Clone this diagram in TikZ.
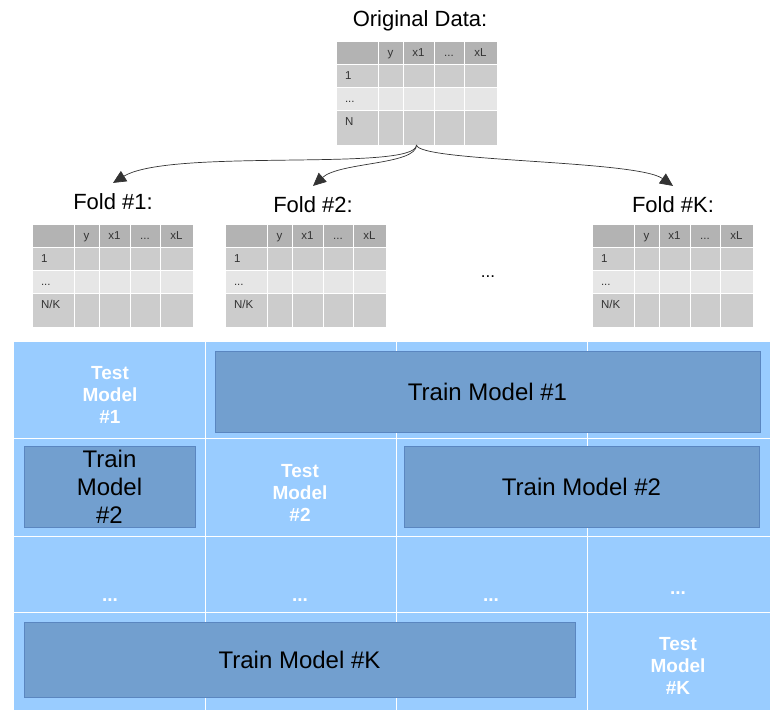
\documentclass[tikz,border=0pt]{standalone}
\usepackage{fontspec}
\setmainfont{Liberation Sans}
\usetikzlibrary{arrows.meta}
\definecolor{headgray}{HTML}{B3B3B3}
\definecolor{rowgray}{HTML}{CCCCCC}
\definecolor{rowlight}{HTML}{E6E6E6}
\definecolor{celltext}{HTML}{333333}
\definecolor{arrowgray}{HTML}{333333}
\definecolor{cvblue}{HTML}{99CCFF}
\definecolor{trainblue}{HTML}{729FCF}
\definecolor{trainedge}{HTML}{5A86C0}
\begin{document}
\begin{tikzpicture}[x=1pt, y=-1pt, line join=miter,
	every node/.style={inner sep=0pt, outer sep=0pt},
	hrow/.style={fill=headgray, draw=white, line width=0.8pt, minimum width=161pt, minimum height=23pt, anchor=north west},
	drow/.style={hrow, fill=rowgray},
	lrow/.style={hrow, fill=rowlight},
	sep/.style={white, line width=0.8pt},
	cell/.style={font=\fontsize{11.5}{13}\selectfont, text=celltext, anchor=base},
	rowlab/.style={cell, anchor=base west},
	title/.style={font=\fontsize{22}{26}\selectfont, outer sep=11pt},
	split/.style={draw=arrowgray, line width=0.7pt, -{Triangle[length=13pt, width=12pt]}},
	trainbox/.style={fill=trainblue, draw=trainedge, line width=0.6pt, anchor=north west, font=\fontsize{24}{28}\selectfont, align=center},
	testlab/.style={text=white, font=\bfseries\fontsize{19}{22}\selectfont, align=center},
	gridline/.style={white, line width=0.6pt}]
	
	\useasboundingbox (0,0) rectangle (778,727);
	
	% Original data
	\node[title] (origlab) at (420,21) {Original Data:};
	\begin{scope}[shift={(336,41)}]
		\node[hrow] (o-h) at (0,0) {};
		\node[drow] (o-1) at (0,23) {};
		\node[lrow] (o-2) at (0,46) {};
		\node[drow, minimum height=35pt] (o-3) at (0,69) {};
		\draw[sep] (42,0) -- (42,104) (67,0) -- (67,104) (98,0) -- (98,104) (128,0) -- (128,104);
		\node[cell] (o-y) at (54.5,15.5) {y};
		\node[cell] (o-x1) at (82.5,15.5) {x1};
		\node[cell] (o-dots) at (113,15.5) {...};
		\node[cell] (o-xl) at (144.5,15.5) {xL};
		\node[rowlab] (o-l1) at (9,38.5) {1};
		\node[rowlab] (o-l2) at (9,61.5) {...};
		\node[rowlab] (o-l3) at (9,84.5) {N};
	\end{scope}
	
	% Fold #1
	\node[title] (f1lab) at (113,202) {Fold \#1:};
	\begin{scope}[shift={(32,224)}]
		\node[hrow] (a-h) at (0,0) {};
		\node[drow] (a-1) at (0,23) {};
		\node[lrow] (a-2) at (0,46) {};
		\node[drow, minimum height=34pt] (a-3) at (0,69) {};
		\draw[sep] (42,0) -- (42,103) (67,0) -- (67,103) (98,0) -- (98,103) (128,0) -- (128,103);
		\node[cell] (a-y) at (54.5,15.5) {y};
		\node[cell] (a-x1) at (82.5,15.5) {x1};
		\node[cell] (a-dots) at (113,15.5) {...};
		\node[cell] (a-xl) at (144.5,15.5) {xL};
		\node[rowlab] (a-l1) at (9,38) {1};
		\node[rowlab] (a-l2) at (9,61) {...};
		\node[rowlab] (a-l3) at (9,84) {N/K};
	\end{scope}
	
	% Fold #2
	\node[title] (f2lab) at (313,205) {Fold \#2:};
	\begin{scope}[shift={(225,224)}]
		\node[hrow] (b-h) at (0,0) {};
		\node[drow] (b-1) at (0,23) {};
		\node[lrow] (b-2) at (0,46) {};
		\node[drow, minimum height=34pt] (b-3) at (0,69) {};
		\draw[sep] (42,0) -- (42,103) (67,0) -- (67,103) (98,0) -- (98,103) (128,0) -- (128,103);
		\node[cell] (b-y) at (54.5,15.5) {y};
		\node[cell] (b-x1) at (82.5,15.5) {x1};
		\node[cell] (b-dots) at (113,15.5) {...};
		\node[cell] (b-xl) at (144.5,15.5) {xL};
		\node[rowlab] (b-l1) at (9,38) {1};
		\node[rowlab] (b-l2) at (9,61) {...};
		\node[rowlab] (b-l3) at (9,84) {N/K};
	\end{scope}
	
	\node[font=\fontsize{17}{20}\selectfont] (foldgap) at (488,277) {...};
	
	% Fold #K
	\node[title] (fklab) at (673,205) {Fold \#K:};
	\begin{scope}[shift={(592,224)}]
		\node[hrow] (k-h) at (0,0) {};
		\node[drow] (k-1) at (0,23) {};
		\node[lrow] (k-2) at (0,46) {};
		\node[drow, minimum height=34pt] (k-3) at (0,69) {};
		\draw[sep] (42,0) -- (42,103) (67,0) -- (67,103) (98,0) -- (98,103) (128,0) -- (128,103);
		\node[cell] (k-y) at (54.5,15.5) {y};
		\node[cell] (k-x1) at (82.5,15.5) {x1};
		\node[cell] (k-dots) at (113,15.5) {...};
		\node[cell] (k-xl) at (144.5,15.5) {xL};
		\node[rowlab] (k-l1) at (9,38) {1};
		\node[rowlab] (k-l2) at (9,61) {...};
		\node[rowlab] (k-l3) at (9,84) {N/K};
	\end{scope}
	
	% Split arrows
	\draw[split] (o-3.south) .. controls +(0,27) and +(57,-35) .. (f1lab.north);
	\draw[split] (o-3.south) .. controls +(0,20) and +(27,-24) .. (f2lab.north);
	\draw[split] (o-3.south) .. controls +(2,17) and +(-37,-26) .. (fklab.north);
	
	% Cross validation grid
	\node[fill=cvblue, minimum width=756pt, minimum height=368pt, anchor=north west] (cv) at (14,342) {};
	\draw[gridline] (205,342) -- (205,710) (396,342) -- (396,710) (587,342) -- (587,710);
	\draw[gridline] (14,438) -- (770,438) (14,536) -- (770,536) (14,612) -- (770,612);
	
	% Row 1
	\node[testlab] (test1) at (110,395) {Test\\Model\\\#1};
	\node[trainbox, minimum width=545pt, minimum height=81pt] (train1) at (215,351) {Train Model \#1};
	
	% Row 2
	\node[trainbox, minimum width=171pt, minimum height=81pt] (train2a) at (24,446) {Train\\Model\\\#2};
	\node[testlab] (test2) at (300,493) {Test\\Model\\\#2};
	\node[trainbox, minimum width=355pt, minimum height=81pt] (train2b) at (404,446) {Train Model \#2};
	
	% Row 3
	\node[testlab] (dots1) at (110,600) {...};
	\node[testlab] (dots2) at (300,600) {...};
	\node[testlab] (dots3) at (491,600) {...};
	\node[testlab] (dots4) at (678,593) {...};
	
	% Row K
	\node[trainbox, minimum width=551pt, minimum height=75pt] (traink) at (24,622) {Train Model \#K};
	\node[testlab] (testk) at (678,666) {Test\\Model\\\#K};
	
\end{tikzpicture}
\end{document}
